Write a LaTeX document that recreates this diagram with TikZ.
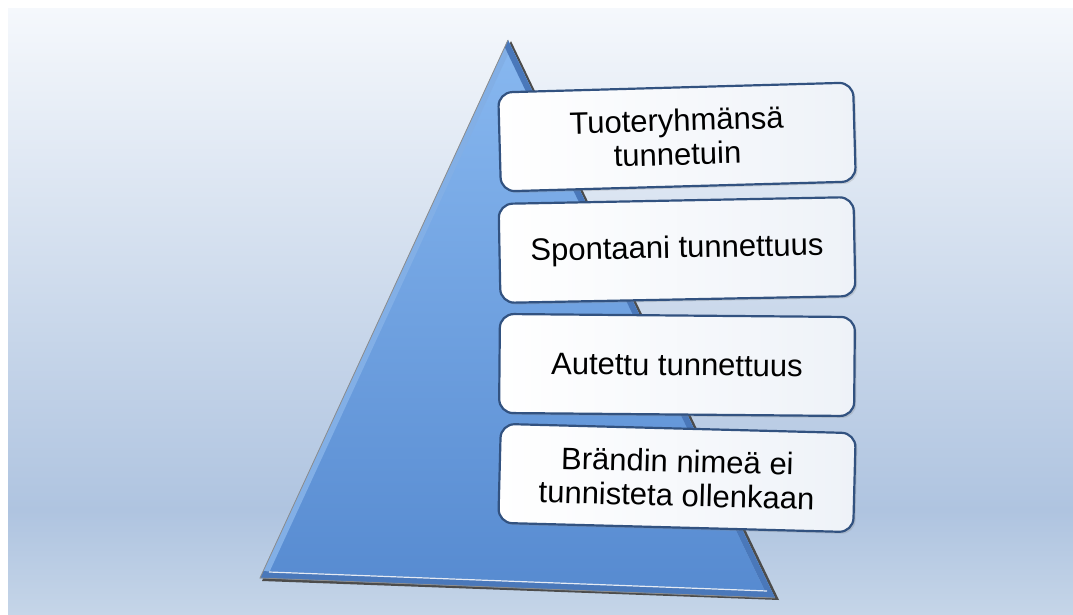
\documentclass[tikz,border=0pt]{standalone}
\usepackage{fontspec}
\setmainfont{Liberation Sans}
\usetikzlibrary{shadows}

\definecolor{bgtop}{RGB}{245,248,252}
\definecolor{bgmid}{RGB}{175,196,224}
\definecolor{bgbot}{RGB}{197,213,232}
\definecolor{tritop}{RGB}{136,184,240}
\definecolor{tribot}{RGB}{86,138,208}
\definecolor{bevel}{RGB}{130,175,230}
\definecolor{beveldark}{RGB}{74,120,186}
\definecolor{boxline}{RGB}{50,82,128}
\definecolor{boxgray}{RGB}{238,242,248}

\tikzstyle{level} = [rectangle, rounded corners=14pt, minimum width=355pt, minimum height=99pt, text centered, align=center, draw=boxline, line width=2.2pt, left color=white, right color=boxgray, font=\fontsize{31}{34}\selectfont, drop shadow={opacity=0.25, shadow xshift=2pt, shadow yshift=-2pt}]

\begin{document}
\begin{tikzpicture}[x=1pt, y=-1pt]

    \useasboundingbox (0,0) rectangle (1073,615);
    \fill[white] (0,0) rectangle (1073,615);

    % Background
    \shade[top color=bgtop, bottom color=bgmid] (8,9) rectangle (1073,510);
    \shade[top color=bgmid, bottom color=bgbot] (8,510) rectangle (1073,615);

    % Triangle
    \coordinate (apex) at (508,40);
    \coordinate (baseleft) at (260,578);
    \coordinate (baseright) at (775,598);
    \fill[black!70] ([shift={(3,1)}]apex) -- ([shift={(4,2)}]baseright) -- ([shift={(2,3)}]baseleft) -- cycle;
    \shade[top color=tritop, bottom color=tribot] (apex) -- (baseright) -- (baseleft) -- cycle;
    \begin{scope}
        \clip (apex) -- (baseright) -- (baseleft) -- cycle;
        \draw[bevel, line width=12pt] (apex) -- (baseright) -- (baseleft) -- cycle;
        \draw[beveldark, line width=12pt] (apex) -- (baseright);
        \draw[beveldark, line width=14pt] (baseleft) -- (baseright);
    \end{scope}
    \draw[white, line width=1.2pt, opacity=0.85] (269,572) -- (767,591);
    \draw[black!45, line width=0.8pt] (apex) -- (baseleft) -- (baseright);

    % Nodes
    \node (brand) [level, rotate=1.6] at (677,137) {Tuoteryhmänsä\\tunnetuin};
    \node (spontaneous) [level, rotate=1.1] at (677,250) {Spontaani tunnettuus};
    \node (aided) [level, rotate=-0.5] at (677,365) {Autettu tunnettuus};
    \node (unknown) [level, rotate=-1.5] at (677,478) {Brändin nimeä ei\\tunnisteta ollenkaan};

\end{tikzpicture}
\end{document}
